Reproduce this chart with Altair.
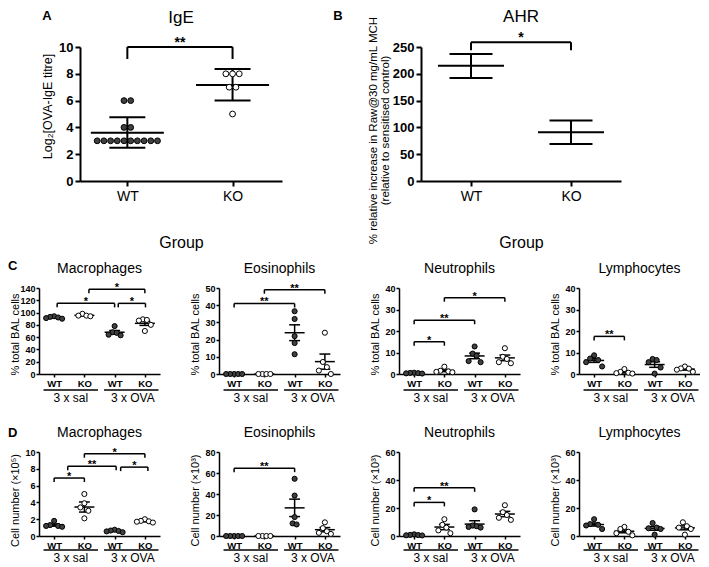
import altair as alt
import pandas as pd

FONT = "Liberation Sans"
DEBUG = False

# ---------------- Panel A: IgE ----------------
ige_labels = ["WT", "KO"]
ige_wt = [3, 3, 3, 3, 3, 3, 3, 3, 3, 3, 4, 4, 6, 6]
ige_ko = [8, 8, 8, 7, 7, 5]
ige_mean = [3.6, 7.17]
ige_lo = [2.49, 6.0]
ige_hi = [4.75, 8.35]
ige_brackets = [(1, 2, 10.0, "**")]

# ---------------- Panel B: AHR ----------------
ahr_labels = ["WT", "KO"]
ahr_mean = [215, 91]
ahr_lo = [192, 69]
ahr_hi = [237, 113]
ahr_brackets = [(1, 2, 259, "*")]

# ---------------- Panels C / D ----------------
bal_labels = ["WT", "KO", "WT", "KO"]
treatments = ["3 x sal", "3 x OVA"]

pct_mac = [[94, 93, 92, 91, 90], [98, 95, 95, 94], [78, 68, 67, 64, 63], [89, 88, 87, 80, 70]]
pct_mac_mean = [92, 95.5, 68, 82.5]
pct_mac_err = [0.8, 1.0, 2.8, 3.4]
pct_mac_br = [(1.1, 3.0, 115, "*"), (2.15, 4.0, 138, "*"), (3.12, 4.02, 115, "*")]

pct_eos = [[0, 0, 0, 0, 0], [0, 0, 0, 0], [36.5, 32, 22, 18, 11.5], [24, 7, 4, 2, 0]]
pct_eos_mean = [0, 0, 24, 7.2]
pct_eos_err = [0, 0, 4.6, 4.4]
pct_eos_br = [(1, 3, 41, "**"), (2, 4, 49, "**")]

pct_neu = [[0.6, 0.5, 0.4, 0.3, 0.2], [3.4, 1.5, 1.2, 1.0, 0.8], [12.8, 9.5, 8.5, 6.0, 5.5], [12, 8, 7, 5.5, 5]]
pct_neu_mean = [0.4, 1.6, 8.4, 7.5]
pct_neu_err = [0.1, 0.5, 1.3, 1.3]
pct_neu_br = [(1, 2, 15, "*"), (1, 3, 25, "**"), (2, 4, 35.5, "*")]

pct_lym = [[8.7, 7.2, 6.5, 5.5, 3.5], [2.3, 1.0, 0.6, 0.4, 0.2], [7.0, 6.5, 5.5, 3.0, 0.2], [3.5, 2.6, 2.5, 2.0, 1.0]]
pct_lym_mean = [6.3, 0.9, 4.4, 2.3]
pct_lym_err = [0.9, 0.4, 1.3, 0.5]
pct_lym_br = [(1, 2, 17.5, "**")]

num_mac = [[1.8, 1.3, 1.2, 1.2, 1.1], [5.0, 3.9, 3.4, 3.0, 2.1], [0.75, 0.65, 0.6, 0.55, 0.45], [2.0, 1.8, 1.75, 1.7, 1.6]]
num_mac_mean = [1.3, 3.45, 0.6, 1.75]
num_mac_err = [0.13, 0.6, 0.05, 0.07]
num_mac_br = [(1, 2, 6.9, "*"), (1.45, 3.05, 8.3, "**"), (2, 4, 9.8, "*"), (3.2, 4.1, 8.2, "*")]

num_eos = [[0, 0, 0, 0, 0], [0, 0, 0, 0], [54.5, 38.5, 18, 12, 11], [13, 7.5, 4.5, 3, 2]]
num_eos_mean = [0, 0, 26.8, 6.0]
num_eos_err = [0, 0, 8.3, 2.0]
num_eos_br = [(1, 3, 64.6, "**")]

num_neu = [[1.2, 0.8, 0.7, 0.5, 0.4], [12, 8, 6, 4, 2], [19, 7.5, 7, 6.5, 6], [22, 17, 15, 13, 11.5]]
num_neu_mean = [0.7, 6.4, 8.5, 15.7]
num_neu_err = [0.15, 1.9, 2.4, 1.9]
num_neu_br = [(1, 2, 24, "*"), (1, 3, 34.4, "**")]

num_lym = [[12, 8.5, 8, 7.5, 5], [6.5, 5, 3, 2, 0.5], [9.3, 6, 5.5, 5, 1], [9.8, 7, 6, 5, 1]]
num_lym_mean = [8.2, 3.4, 5.4, 5.8]
num_lym_err = [1.1, 1.1, 1.3, 1.4]
num_lym_br = []


# ---------------- helpers ----------------
def swarm(vals, px_y, dot_px, step_px, px_x):
    """Spread overlapping points sideways, highest value in the middle."""
    idx = sorted(range(len(vals)), key=lambda i: vals[i])
    clusters = []
    for i in idx:
        if clusters and (vals[i] - vals[clusters[-1][-1]]) * px_y < dot_px * 0.9:
            clusters[-1].append(i)
        else:
            clusters.append([i])
    off = [0.0] * len(vals)
    for c in clusters:
        k = len(c)
        slots = [j - (k - 1) / 2 for j in range(k)]
        slots.sort(key=lambda s: (abs(s), s))
        members = sorted(c, key=lambda i: -vals[i])
        for s, i in zip(slots, members):
            off[i] = s * step_px / px_x
    return off


def one():
    return pd.DataFrame({"a": [0]})


def anchor(x1, x2, y1, y2):
    return alt.Chart(one()).mark_rect(
        fillOpacity=0, stroke="red" if DEBUG else "white", strokeOpacity=1 if DEBUG else 0,
        strokeWidth=1).encode(x=alt.value(x1), x2=alt.value(x2), y=alt.value(y1), y2=alt.value(y2))


def txt(text, x, y, size, weight="normal", align="center", baseline="middle"):
    return alt.Chart(one()).mark_text(
        text=text, font=FONT, fontSize=size, fontWeight=weight, align=align,
        baseline=baseline, color="black").encode(x=alt.value(x), y=alt.value(y))


def panel(groups, mean, lo, hi, labels, ymax, ystep, brackets, g, st, ytitle,
          texts, xtitle=None, under=None):
    W, H, L, T, R, B = g["W"], g["H"], g["L"], g["T"], g["R"], g["B"]
    x0, x1 = g["xdom"]
    px_x = W / (x1 - x0)
    px_y = H / ymax
    xs = alt.Scale(domain=[x0, x1], nice=False, zero=False)
    ys = alt.Scale(domain=[0, ymax], nice=False, zero=True)
    n = len(labels)
    lab_js = "[''," + ",".join("'%s'" % s for s in labels) + "]"
    xkw = dict(values=list(range(1, n + 1)), labelExpr=lab_js + "[datum.value]",
               labelFlush=False, labelFont=FONT, labelFontSize=st["xlab_size"],
               labelFontWeight=st["xlab_weight"], labelColor="black",
               labelPadding=st["xlab_pad"], tickSize=st["xtick"], tickColor="black",
               tickWidth=st["axis_w"], domainColor="black", domainWidth=st["axis_w"],
               grid=False, labelAngle=0)
    if xtitle:
        xkw.update(title=xtitle, titleFont=FONT, titleFontSize=16, titleFontWeight="normal",
                   titleColor="black", titleX=W / 2, titleY=st["xtitle_y"],
                   titleBaseline="middle", titleAlign="center")
    else:
        xkw["title"] = None
    xa = alt.Axis(**xkw)
    ya = alt.Axis(values=list(range(0, ymax + 1, ystep)), title=ytitle, titleFont=FONT,
                  titleFontSize=st["ytitle_size"], titleFontWeight="normal",
                  titleColor="black", titleAngle=270, titleAlign="center",
                  titleBaseline="bottom", titleX=st["ytitle_x"], titleY=st["ytitle_y"],
                  titleLineHeight=st["lh"], labelFont=FONT, labelFontSize=st["ylab_size"],
                  labelFontWeight="bold", labelColor="black", labelPadding=st["ylab_pad"],
                  tickSize=st["ytick"], tickColor="black", tickWidth=st["axis_w"],
                  domainColor="black", domainWidth=st["axis_w"], grid=False,
                  labelFlush=False)

    layers = [anchor(-L, W + R, -T, H + B)]

    seg = []
    for i in range(n):
        p = i + 1
        seg.append((p - st["mean_hw"], p + st["mean_hw"], mean[i], mean[i], st["line_w"]))
        seg.append((p, p, lo[i], hi[i], st["line_w"]))
        seg.append((p - st["cap_hw"], p + st["cap_hw"], lo[i], lo[i], st["line_w"]))
        seg.append((p - st["cap_hw"], p + st["cap_hw"], hi[i], hi[i], st["line_w"]))
    drop = st["drop_px"] / px_y
    stars = []
    for (a, b, y, s) in brackets:
        seg.append((a, b, y, y, st["br_w"]))
        seg.append((a, a, y, y - drop, st["br_w"]))
        seg.append((b, b, y, y - drop, st["br_w"]))
        stars.append(((a + b) / 2, y, s))
    segdf = pd.DataFrame(seg, columns=["x1", "x2", "y1", "y2", "w"])
    layers.append(alt.Chart(segdf).mark_rule(color="black", strokeCap="butt").encode(
        x=alt.X("x1:Q", scale=xs, axis=xa), x2="x2:Q",
        y=alt.Y("y1:Q", scale=ys, axis=ya), y2="y2:Q",
        strokeWidth=alt.StrokeWidth("w:Q", scale=None)))

    if groups is not None:
        rows = []
        for i, vals in enumerate(groups):
            off = swarm(vals, px_y, st["dot_px"], st["step_px"], px_x)
            for v, o in zip(vals, off):
                rows.append((i + 1 + o, v, labels[i]))
        pts = pd.DataFrame(rows, columns=["x", "y", "k"])
        layers.append(alt.Chart(pts).mark_circle(
            size=st["dot_size"], stroke="black", strokeWidth=1, opacity=1).encode(
            x=alt.X("x:Q", scale=xs, axis=xa), y=alt.Y("y:Q", scale=ys, axis=ya),
            fill=alt.Fill("k:N", scale=alt.Scale(domain=["WT", "KO"], range=["#404040", "white"]),
                          legend=None)))

    if stars:
        sdf = pd.DataFrame(stars, columns=["sx", "sy", "s"])
        layers.append(alt.Chart(sdf).mark_text(
            font=FONT, fontSize=st["star_size"], fontWeight="bold", baseline="alphabetic",
            dy=st["star_dy"], color="black").encode(
            x=alt.X("sx:Q", scale=xs, axis=xa), y=alt.Y("sy:Q", scale=ys, axis=ya),
            text="s:N"))

    if under is not None:
        spans, centers = under
        udf = pd.DataFrame({"u1": [s[0] for s in spans], "u2": [s[1] for s in spans],
                            "gx": centers, "g": treatments})
        layers.append(alt.Chart(udf).mark_rule(color="black", strokeWidth=1.5).encode(
            x=alt.X("u1:Q", scale=xs, axis=xa), x2="u2:Q", y=alt.value(H + st["under_y"])))
        layers.append(alt.Chart(udf).mark_text(
            font=FONT, fontSize=st["glab_size"], fontWeight=st["glab_weight"],
            baseline="middle", color="black").encode(
            x=alt.X("gx:Q", scale=xs, axis=xa), y=alt.value(H + st["glab_y"]), text="g:N"))

    for t in texts:
        layers.append(txt(*t))
    return alt.layer(*layers).properties(width=W, height=H)


# ---------------- geometry & style ----------------
# row origins are aligned on the first cell's plot origin (image x = 39)
GA = dict(W=202, H=134, L=39, T=37, R=73, B=71, xdom=(0.55, 2.47))
GB = dict(W=200, H=134, L=66, T=37, R=76, B=71, xdom=(0.5, 2.5))
SA = dict(dot_size=34, dot_px=6.7, step_px=6.7, mean_hw=0.347, cap_hw=0.171, line_w=2,
          br_w=2, drop_px=12, star_size=14, star_dy=0, axis_w=2, xlab_size=14,
          xlab_weight="normal", xlab_pad=3, xtick=5, ylab_size=13, ylab_pad=2, ytick=5,
          ytitle_size=12.5, ytitle_x=-26, ytitle_y=59, xtitle_y=61, lh=12)
SB = dict(SA, mean_hw=0.33, cap_hw=0.215, drop_px=8, ytitle_size=11.5, ytitle_x=-43,
          ytitle_y=83, lh=12)

def gcd(T, H, B, last=False):
    return dict(W=121, H=H, L=31, T=T, R=0 if last else 28, B=B, xdom=(0.5, 4.5))

SC = dict(dot_size=26, dot_px=6, step_px=4, mean_hw=0.33, cap_hw=0.18, line_w=1.5,
          br_w=1.5, drop_px=4, star_size=11, star_dy=2, axis_w=1.5, xlab_size=9.5,
          xlab_weight="bold", xlab_pad=1, xtick=3, ylab_size=9, ylab_pad=1, ytick=3,
          ytitle_size=11, ytitle_x=-19, ytitle_y=46, lh=12, under_y=16, glab_y=24,
          glab_size=12, glab_weight="normal")
SD = dict(SC, ytitle_y=48, under_y=14, glab_y=22)
UNDER = ([(0.65, 2.45), (2.65, 4.45)], [1.55, 3.6])

# ---------------- panels ----------------
spacer = anchor(-31, 0, -37, 134 + 71).properties(width=1, height=134)

pA = panel([ige_wt, ige_ko], ige_mean, ige_lo, ige_hi, ige_labels, 10, 2, ige_brackets,
           GA, SA, "Log₂[OVA-IgE titre]",
           [("IgE", 101, -29, 17), ("A", -33, -31, 13, "bold"), ("B", 258, -31, 13, "bold")],
           xtitle="Group")
pB = panel(None, ahr_mean, ahr_lo, ahr_hi, ahr_labels, 250, 50, ahr_brackets, GB, SB,
           ["% relative increase in Raw@30 mg/mL MCH", "(relative to sensitised control)"],
           [("AHR", 100, -30, 17)], xtitle="Group")

def lohi(m, e):
    return [a - b for a, b in zip(m, e)], [a + b for a, b in zip(m, e)]

c_specs = [
    (pct_mac, pct_mac_mean, pct_mac_err, 140, 20, pct_mac_br, "Macrophages"),
    (pct_eos, pct_eos_mean, pct_eos_err, 50, 10, pct_eos_br, "Eosinophils"),
    (pct_neu, pct_neu_mean, pct_neu_err, 40, 10, pct_neu_br, "Neutrophils"),
    (pct_lym, pct_lym_mean, pct_lym_err, 40, 10, pct_lym_br, "Lymphocytes"),
]
d_specs = [
    (num_mac, num_mac_mean, num_mac_err, 10, 2, num_mac_br, "Macrophages", "Cell number (×10⁵)"),
    (num_eos, num_eos_mean, num_eos_err, 80, 20, num_eos_br, "Eosinophils", "Cell number (×10³)"),
    (num_neu, num_neu_mean, num_neu_err, 60, 20, num_neu_br, "Neutrophils", "Cell number (×10³)"),
    (num_lym, num_lym_mean, num_lym_err, 60, 20, num_lym_br, "Lymphocytes", "Cell number (×10³)"),
]

rowC = []
for k, (vals, m, e, ymax, step, br, name) in enumerate(c_specs):
    lo, hi = lohi(m, e)
    texts = [(name, 60.5, -19, 14)]
    if k == 0:
        texts.append(("C", -31, -22, 13, "bold", "left"))
    rowC.append(panel(vals, m, lo, hi, bal_labels, ymax, step, br, gcd(36, 86, 32, k == 3), SC,
                      "% total BAL cells", texts, under=UNDER))

rowD = []
for k, (vals, m, e, ymax, step, br, name, yt) in enumerate(d_specs):
    lo, hi = lohi(m, e)
    texts = [(name, 60.5, -19, 14)]
    if k == 0:
        texts.append(("D", -31, -19, 13, "bold", "left"))
    rowD.append(panel(vals, m, lo, hi, bal_labels, ymax, step, br, gcd(46, 84, 28, k == 3), SD,
                      yt, texts, under=UNDER))

chart = alt.vconcat(
    alt.hconcat(spacer, pA, pB, spacing=0),
    alt.hconcat(*rowC, spacing=0),
    alt.hconcat(*rowD, spacing=0),
    spacing=0,
).properties(padding=0).configure_view(stroke=None)

chart.save("out.html", embed_options={"renderer": "svg", "actions": False})
